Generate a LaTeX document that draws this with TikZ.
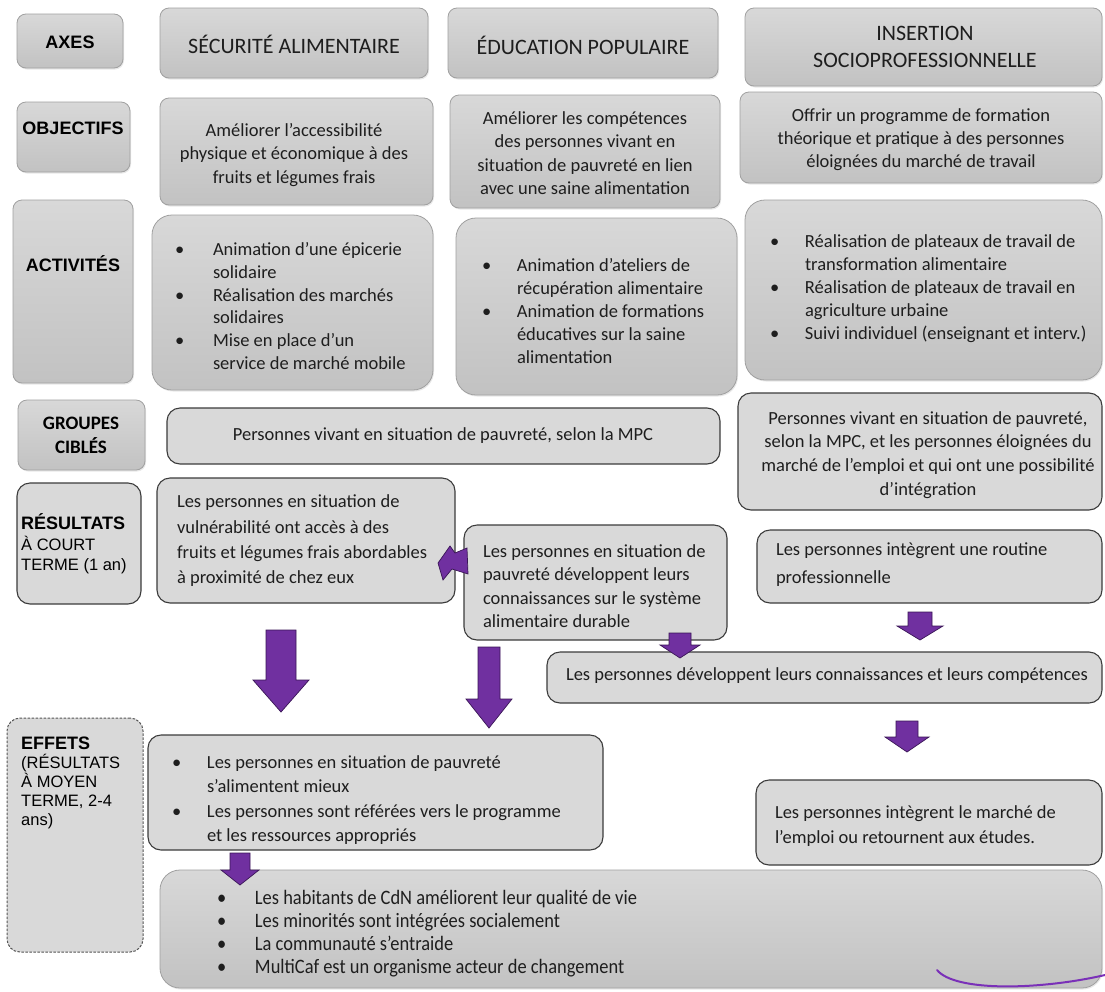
\documentclass[tikz,border=0pt]{standalone}
\usepackage{fontspec}
\setmainfont{Carlito}
\newfontfamily\arialf{Liberation Sans}
\newfontfamily\narrowf[FakeStretch=0.9]{Carlito}
\usetikzlibrary{shadows}
\definecolor{stop}{HTML}{D8D8D8}
\definecolor{sbot}{HTML}{C2C2C2}
\definecolor{sbord}{HTML}{A0A0A0}
\definecolor{dfill}{HTML}{D9D9D9}
\definecolor{dbord}{HTML}{3C3C3C}
\definecolor{dashc}{HTML}{555555}
\definecolor{tcol}{HTML}{1E1E1E}
\definecolor{purp}{HTML}{7030A0}
\definecolor{purpd}{HTML}{3A1656}
\definecolor{curvec}{HTML}{7A30B8}
\newcommand\fs[2]{\fontsize{#1}{#2}\selectfont}
\newcommand\itm[2]{\noindent\hangindent=#1\hangafter=1\makebox[#1][l]{\textbullet}#2\par}
\newcommand\bx[6]{\node[#1, minimum width={#5-#3}, minimum height={#6-#4}] (#2) at ({(#3+#5)/2},{(#4+#6)/2}) {};}
\newcommand\barr[6]{%
  \draw[barrow] (#1-#4,#2) -- (#1+#4,#2) -- (#1+#4,#3-#6) -- (#1+#5,#3-#6) -- (#1,#3) -- (#1-#5,#3-#6) -- (#1-#4,#3-#6) -- cycle;}
\tikzset{
  solidbox/.style={rectangle, rounded corners=9pt, draw=sbord, line width=0.8pt, top color=stop, bottom color=sbot, inner sep=0pt, outer sep=0pt, drop shadow={opacity=0.18, shadow xshift=1pt, shadow yshift=-1.5pt}},
  bigsolid/.style={solidbox, rounded corners=20pt},
  dotbox/.style={rectangle, rounded corners=13pt, draw=dbord, line width=1.1pt, fill=dfill, inner sep=0pt, outer sep=0pt},
  dashbox/.style={dotbox, draw=dashc, line width=1pt, dash pattern=on 2.5pt off 1.5pt},
  txt/.style={inner sep=0pt, outer sep=0pt, text=tcol},
  lst/.style={txt, anchor=west, align=flush left},
  hdr/.style={txt, font=\fs{22}{27}},
  lab/.style={inner sep=0pt, text=black, font=\arialf\bfseries\fs{18}{21}},
  barrow/.style={fill=purp, draw=purpd, line width=0.7pt, line join=miter},
}
\begin{document}
\begin{tikzpicture}[x=1pt,y=-1pt]
\useasboundingbox (0,0) rectangle (1105,991);
\fill[white] (0,0) rectangle (1105,991);

% ---- boxes ----
\bx{solidbox}{bAxes}{17}{14}{123}{68}
\bx{solidbox}{bSA}{160}{8}{428}{78}
\bx{solidbox}{bEP}{448}{8}{718}{78}
\bx{solidbox}{bIS}{745}{8}{1102}{86}
\bx{solidbox}{bObj}{17}{102}{130}{172}
\bx{solidbox}{bObjSA}{160}{98}{433}{205}
\bx{solidbox}{bObjEP}{450}{95}{720}{208}
\bx{solidbox}{bObjIS}{740}{92}{1102}{183}
\bx{solidbox}{bAct}{13}{200}{133}{383}
\bx{bigsolid}{bActSA}{152}{215}{433}{390}
\bx{bigsolid}{bActEP}{456}{218}{737}{395}
\bx{bigsolid}{bActIS}{745}{200}{1102}{380}
\bx{solidbox}{bGrp}{18}{400}{145}{470}
\bx{dotbox}{bG1}{167}{408}{720}{464}
\bx{dotbox}{bG2}{738}{393}{1102}{510}
\bx{dotbox}{bRes}{17}{483}{141}{604}
\bx{dotbox}{bR1}{157}{478}{455}{603}
\bx{dotbox}{bR2}{464}{525}{727}{640}
\bx{dotbox}{bR3}{757}{530}{1102}{603}
\bx{dotbox}{bKC}{547}{652}{1102}{703}
\bx{dashbox}{bEff}{7}{718}{143}{952}
\bx{dotbox}{bE1}{148}{735}{603}{850}
\bx{dotbox}{bE2}{756}{780}{1102}{865}
\bx{bigsolid}{bImp}{160}{870}{1102}{988}

% ---- row labels ----
\node[lab] (tAxes) at (70,42) {AXES};
\node[lab] (tObj) at (73,128) {OBJECTIFS};
\node[lab] (tAct) at (73,264) {ACTIVITÉS};
\node[inner sep=0pt, text=black, font=\bfseries\fs{19}{24}, align=center] (tGrp) at (81,435) {GROUPES\\CIBLÉS};
\node[inner sep=0pt, text=black, font=\arialf\fs{16.5}{20.5}, align=left, anchor=west] (tRes) at (21,544) {{\bfseries\fs{18}{20.5}RÉSULTATS}\\À COURT\\TERME (1 an)};
\node[inner sep=0pt, text=black, font=\arialf\fs{16.5}{19.2}, align=left, anchor=west] (tEff) at (21,783) {{\bfseries\fs{18}{19.2}EFFETS}\\(RÉSULTATS\\À MOYEN\\TERME, 2-4\\ans)};

% ---- axes ----
\node[hdr] (tSA) at (294,44) {SÉCURITÉ ALIMENTAIRE};
\node[hdr] (tEP) at (583,45) {ÉDUCATION POPULAIRE};
\node[hdr, align=center] (tIS) at (925,47) {INSERTION\\SOCIOPROFESSIONNELLE};

% ---- objectives ----
\node[txt, font=\fs{18.5}{23.5}, align=center] (tObjSA) at (294,155) {Améliorer l’accessibilité\\physique et économique à des\\fruits et légumes frais};
\node[txt, font=\fs{18.5}{23.3}, align=center] (tObjEP) at (585,153) {Améliorer les compétences\\des personnes vivant en\\situation de pauvreté en lien\\avec une saine alimentation};
\node[txt, font=\fs{18.5}{23}, align=center] (tObjIS) at (921,140) {Offrir un programme de formation\\théorique et pratique à des personnes\\éloignées du marché de travail};

% ---- activities ----
\node[lst, font=\fs{18.5}{22.8}, text width=255pt] (tActSA) at (175,306)
 {\itm{38pt}{Animation d’une épicerie\newline solidaire}\itm{38pt}{Réalisation des marchés\newline solidaires}\itm{38pt}{Mise en place d’un\newline service de marché mobile}};
\node[lst, font=\fs{18.5}{22.8}, text width=250pt] (tActEP) at (482,311)
 {\itm{35pt}{Animation d’ateliers de\newline récupération alimentaire}\itm{35pt}{Animation de formations\newline éducatives sur la saine\newline alimentation}};
\node[lst, font=\fs{18.5}{23}, text width=330pt] (tActIS) at (770,289)
 {\itm{35pt}{Réalisation de plateaux de travail de\newline transformation alimentaire}\itm{35pt}{Réalisation de plateaux de travail en\newline agriculture urbaine}\itm{35pt}{Suivi individuel (enseignant et interv.)}};

% ---- target groups ----
\node[txt, font=\fs{18.5}{23}] (tG1) at (443,436) {Personnes vivant en situation de pauvreté, selon la MPC};
\node[txt, font=\fs{18.5}{23.7}, align=center] (tG2) at (928,455) {Personnes vivant en situation de pauvreté,\\selon la MPC, et les personnes éloignées du\\marché de l’emploi et qui ont une possibilité\\d’intégration};

% ---- short-term results ----
\node[txt, font=\fs{18.5}{25.3}, anchor=west, align=left] (tR1) at (177,541) {Les personnes en situation de\\vulnérabilité ont accès à des\\fruits et légumes frais abordables\\à proximité de chez eux};
\node[txt, font=\fs{18.5}{23.3}, anchor=west, align=left] (tR2) at (483,586) {Les personnes en situation de\\pauvreté développent leurs\\connaissances sur le système\\alimentaire durable};
\node[txt, font=\fs{18.5}{28}, anchor=west, align=left] (tR3) at (776,565) {Les personnes intègrent une routine\\professionnelle};
\node[txt, font=\fs{18.5}{23}, anchor=west] (tKC) at (566,676) {Les personnes développent leurs connaissances et leurs compétences};

% ---- effects ----
\node[lst, font=\fs{18.5}{24.3}, text width=420pt] (tE1) at (172,800)
 {\itm{35pt}{Les personnes en situation de pauvreté\newline s’alimentent mieux}\itm{35pt}{Les personnes sont référées vers le programme\newline et les ressources appropriés}};
\node[txt, font=\fs{18.5}{25}, anchor=west, align=left] (tE2) at (775,826) {Les personnes intègrent le marché de\\l’emploi ou retournent aux études.};
\node[lst, font=\narrowf\fs{20.5}{23}, text width=600pt] (tImp) at (217,934)
 {\itm{38pt}{Les habitants de CdN améliorent leur qualité de vie}\itm{38pt}{Les minorités sont intégrées socialement}\itm{38pt}{La communauté s’entraide}\itm{38pt}{MultiCaf est un organisme acteur de changement}};

% ---- block arrows ----
\barr{281}{630}{712}{15}{28}{32}
\barr{489}{647}{728}{11}{23}{29}
\barr{680}{633}{658}{11}{20}{13}
\barr{920}{612}{640}{12}{23}{14}
\barr{907}{721}{752}{11}{22}{15}
\barr{240}{853}{885}{10}{19}{15}
\draw[barrow] (438,563) -- (450,546) -- (455,553) -- (467,548) -- (468,574) -- (452,569) -- (443,580) -- cycle;

% ---- hand-drawn stroke ----
\draw[curvec, line width=2pt, line cap=round] (937,970) .. controls (955,992) and (1040,990) .. (1105,975);
\end{tikzpicture}
\end{document}
